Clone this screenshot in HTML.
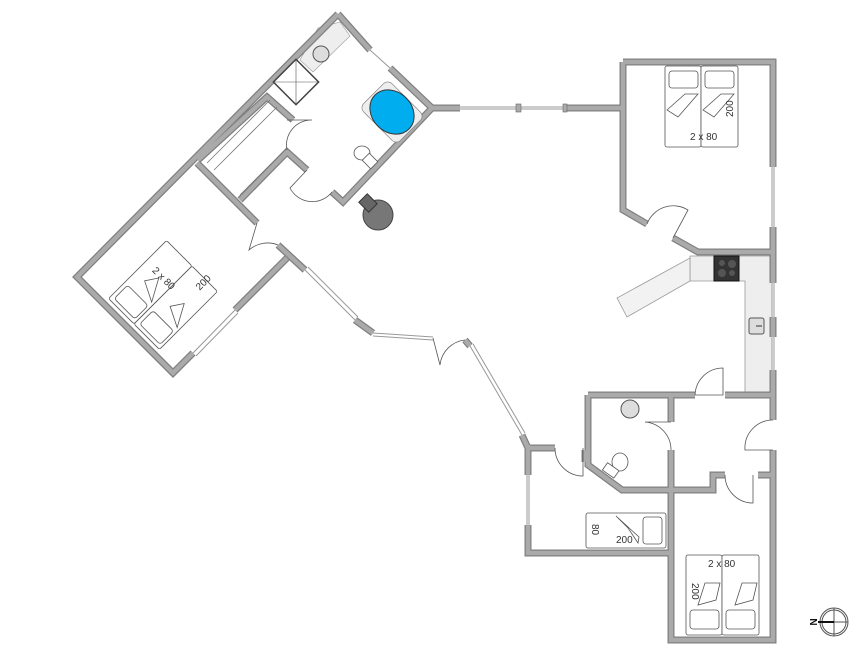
<!DOCTYPE html>
<html><head><meta charset="utf-8"><style>
html,body{margin:0;padding:0;background:#fff;}
svg{display:block;font-family:"Liberation Sans",sans-serif;}
.w{fill:none;stroke:#808080;stroke-width:7;stroke-linejoin:miter;stroke-linecap:butt}
.wi{fill:none;stroke:#aaaaaa;stroke-width:4.5;stroke-linejoin:miter;stroke-linecap:butt}
.win{fill:none;stroke:#999;stroke-width:1}
.d{fill:none;stroke:#555;stroke-width:0.8}
.f{fill:#fff;stroke:#555;stroke-width:0.8}
.t{font-size:10px;fill:#333}
</style></head><body>
<svg width="866" height="667" viewBox="0 0 866 667" xmlns="http://www.w3.org/2000/svg">
<defs>
<path id="walls" d="
M338,14 L77,277 L173,373 L193,353
M235,310 L287,258
M197,163 L257,223
M278,245 L305,270
M355,320 L373,333
M198,160 L267,97 L293,120
M240,200 L287,152 L307,170
M332,192 L343,202 L432,108 L390,68
M370,50 L338,14
M432,108 L460,108
M565,108 L624,108
M623,62 L623,210 L647,224
M673,238 L698,252 L773,252
M623,62 L773,62 L773,167
M773,227 L773,283
M773,317 L773,337
M773,370 L773,420
M773,450 L773,640 L671,640 L671,450
M671,422 L671,395
M588,395 L695,395
M725,395 L773,395
M588,395 L588,465 L622,490 L713,490 L713,475 L725,475
M758,475 L773,475
M528,448 L555,448
M585,450 L585,462
M528,445 L528,475
M528,525 L528,553 L671,553
M465,340 L470,346
M522,435 L528,448
"/>
</defs>

<!-- counters -->
<polygon points="690,256 772,256 772,392 745,392 745,281 690,281" fill="#eee" stroke="#999" stroke-width="0.8"/>
<polygon points="690,258 690,281 627,317 617,298" fill="#f2f2f2" stroke="#999" stroke-width="0.8"/>
<rect x="714" y="256" width="25" height="25" fill="#333" stroke="#111"/>
<circle cx="722" cy="263" r="3" fill="#555"/><circle cx="732" cy="264" r="4" fill="#555"/>
<circle cx="722" cy="273" r="4" fill="#555"/><circle cx="732" cy="273" r="3" fill="#555"/>
<rect x="749" y="318" width="15" height="16" rx="2" fill="#ddd" stroke="#555"/>
<line x1="756" y1="326" x2="762" y2="326" stroke="#333"/>

<!-- bath counter strip -->
<polygon points="318,28 340,22 350,36 313,72 300,60" fill="#eee" stroke="#999" stroke-width="0.6"/>

<use href="#walls" class="w"/>
<use href="#walls" class="wi"/>

<!-- windows -->
<g class="win">
<line x1="193" y1="353" x2="235" y2="310"/><line x1="196" y1="356" x2="238" y2="313"/>
<line x1="305" y1="270" x2="355" y2="320"/><line x1="308" y1="267" x2="358" y2="317"/>
<line x1="373" y1="333" x2="433" y2="337"/><line x1="373" y1="336" x2="433" y2="340"/>
<line x1="470" y1="346" x2="522" y2="435"/><line x1="473" y1="344" x2="525" y2="433"/>
<line x1="370" y1="50" x2="390" y2="68"/>
<line x1="460" y1="107" x2="565" y2="107"/><line x1="460" y1="109" x2="565" y2="109"/>
<line x1="772" y1="167" x2="772" y2="227"/><line x1="774" y1="167" x2="774" y2="227"/>
<line x1="772" y1="283" x2="772" y2="317"/><line x1="774" y1="283" x2="774" y2="317"/>
<line x1="772" y1="337" x2="772" y2="370"/><line x1="774" y1="337" x2="774" y2="370"/>
<line x1="527" y1="475" x2="527" y2="525"/><line x1="529" y1="475" x2="529" y2="525"/>
</g>
<g fill="#aaa" stroke="#666" stroke-width="0.6">
<rect x="516" y="104" width="5" height="8"/><rect x="563" y="104" width="4" height="8"/>
</g>

<!-- doors -->
<g class="d">
<path d="M287,120 L312,120 A25,25 0 0 0 287,150"/>
<path d="M307,170 L290,188 A25,25 0 0 0 332,192"/>
<path d="M257,223 L249,250 A28,28 0 0 1 278,245" />
<path d="M433,338 L440,365 A28,28 0 0 1 465,340"/>
<path d="M647,224 A28,28 0 0 1 688,210 L673,238"/>
<path d="M695,395 L723,395 L723,368 A28,28 0 0 0 695,395"/>
<path d="M671,422 L645,422 A28,28 0 0 1 671,450"/>
<path d="M773,450 L745,450 A28,28 0 0 1 773,420"/>
<path d="M725,475 A28,28 0 0 0 753,503 L753,475"/>
<path d="M555,448 A28,28 0 0 0 583,476 L583,448"/>
</g>

<!-- shower -->
<g transform="rotate(45 296 82)">
<rect x="280" y="66" width="32" height="32" fill="#fff" stroke="#444" stroke-width="1.5"/>
<line x1="280" y1="66" x2="312" y2="98" stroke="#555" stroke-width="0.6"/>
<line x1="312" y1="66" x2="280" y2="98" stroke="#555" stroke-width="0.6"/>
</g>
<circle cx="321" cy="54" r="8" fill="#ddd" stroke="#555"/>
<!-- tub -->
<g transform="rotate(45 392 112)">
<rect x="366" y="92" width="52" height="40" rx="6" fill="#eee" stroke="#777" stroke-width="0.6"/>
<ellipse cx="392" cy="112" rx="24" ry="20" fill="#00aeef" stroke="#333"/>
</g>
<!-- toilet -->
<ellipse cx="362" cy="153" rx="8" ry="7" class="f"/>
<rect x="365" y="155" width="10" height="12" class="f" transform="rotate(-45 370 161)"/>
<!-- fireplace -->
<circle cx="378" cy="215" r="15" fill="#777" stroke="#444"/>
<rect x="361" y="197" width="14" height="12" fill="#666" stroke="#333" transform="rotate(45 368 203)"/>

<!-- bath2 -->
<circle cx="630" cy="409" r="9" fill="#ddd" stroke="#555"/>
<ellipse cx="620" cy="462" rx="8" ry="9" class="f"/>
<rect x="604" y="466" width="14" height="9" class="f" transform="rotate(35 611 470)"/>

<!-- closet lines -->
<g stroke="#777" stroke-width="0.8">
<line x1="207" y1="163" x2="270" y2="100"/>
<line x1="214" y1="170" x2="277" y2="107"/>
<line x1="240" y1="195" x2="287" y2="148"/>
</g>

<!-- beds right top -->
<g class="d">
<rect x="665" y="66" width="36" height="81" rx="2" class="f"/>
<rect x="701" y="66" width="37" height="81" rx="2" class="f"/>
<rect x="669" y="71" width="29" height="17" rx="3"/>
<rect x="705" y="71" width="29" height="17" rx="3"/>
<polygon points="667,110 685,94 698,94 678,117"/>
<polygon points="703,110 721,94 734,94 714,117"/>
</g>
<text class="t" x="690" y="140">2 x 80</text>
<text class="t" transform="translate(733,117) rotate(-90)">200</text>

<!-- beds right bottom -->
<g class="d">
<rect x="686" y="555" width="36" height="80" rx="2" class="f"/>
<rect x="722" y="555" width="37" height="80" rx="2" class="f"/>
<rect x="690" y="610" width="29" height="19" rx="3"/>
<rect x="726" y="610" width="29" height="19" rx="3"/>
<polygon points="705,583 720,583 716,600 698,605"/>
<polygon points="742,583 757,583 753,600 735,605"/>
</g>
<text class="t" x="708" y="567">2 x 80</text>
<text class="t" transform="translate(692,583) rotate(90)">200</text>

<!-- single bed -->
<g class="d">
<rect x="586" y="513" width="80" height="35" rx="2" class="f"/>
<rect x="643" y="517" width="19" height="27" rx="3"/>
<polygon points="616,516 639,537 638,543 628,528"/>
</g>
<text class="t" transform="translate(592,524) rotate(90)">80</text>
<text class="t" x="616" y="543">200</text>

<!-- left bedroom beds -->
<g transform="rotate(-45 163 295)">
<g class="d">
<rect x="122" y="259" width="82" height="36" rx="2" class="f"/>
<rect x="122" y="295" width="82" height="36" rx="2" class="f"/>
<rect x="126" y="263" width="19" height="29" rx="3"/>
<rect x="126" y="299" width="19" height="29" rx="3"/>
<polygon points="150,292 160,272 172,280 150,292"/>
<polygon points="150,328 160,308 172,316 150,328"/>
</g>
<text class="t" transform="translate(172,270) rotate(90)">2 x 80</text>
<text class="t" transform="translate(192,318)">200</text>
</g>

<!-- compass -->
<circle cx="834" cy="622" r="14" fill="none" stroke="#555"/>
<circle cx="834" cy="622" r="12" fill="none" stroke="#555"/>
<line x1="834" y1="608" x2="834" y2="636" stroke="#555"/>
<line x1="820" y1="622" x2="848" y2="622" stroke="#555"/>
<line x1="818" y1="622" x2="834" y2="622" stroke="#111" stroke-width="2"/>
<text x="814" y="626" font-size="10" font-weight="bold" fill="#111" transform="rotate(90 814 622)" text-anchor="middle">N</text>
</svg>
</body></html>
